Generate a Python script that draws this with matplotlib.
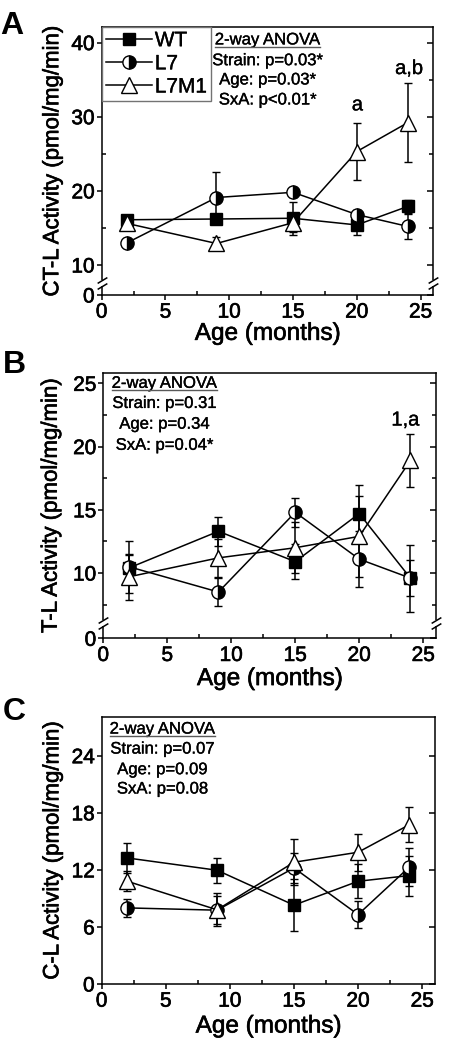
import numpy as np
import matplotlib
matplotlib.use('Agg')
import matplotlib.pyplot as plt
import matplotlib.patheffects as pe
from matplotlib.lines import Line2D
from matplotlib.path import Path
from matplotlib.ticker import FixedLocator
from matplotlib.transforms import blended_transform_factory, ScaledTranslation

plt.rcParams['font.family'] = ['Liberation Sans', 'DejaVu Sans']
plt.rcParams['axes.linewidth'] = 1.1

W, H = 453, 1050

# ages (months) and strains
ages = [2, 9, 15, 20, 24]
strains = ['WT', 'L7', 'L7M1']

# A: chymotrypsin-like activity
ctl_wt = [16.1, 16.2, 16.3, 15.4, 17.9]
ctl_wt_err = [0.5, 0.6, 2.2, 1.35, 0.9]
ctl_l7 = [13.0, 19.1, 19.8, 16.8, 15.2]
ctl_l7_err = [0.5, 3.4, 0.6, 0.6, 1.7]
ctl_l7m1 = [15.6, 12.9, 15.7, 25.3, 29.2]
ctl_l7m1_err = [0.9, 0.9, 1.2, 3.8, 5.3]

# B: trypsin-like activity
tl_wt = [10.4, 13.3, 10.9, 14.7, 9.6]
tl_wt_err = [1.0, 1.15, 1.4, 2.3, 1.45]
tl_l7 = [10.5, 8.5, 14.8, 11.1, 9.6]
tl_l7_err = [2.05, 1.1, 1.15, 2.2, 2.65]
tl_l7m1 = [9.7, 11.2, 12.0, 12.9, 18.9]
tl_l7m1_err = [1.8, 1.5, 2.0, 3.2, 2.1]

# C: caspase-like activity
cl_wt = [13.25, 11.96, 8.29, 10.8, 11.4]
cl_wt_err = [1.6, 1.3, 2.75, 1.8, 2.1]
cl_l7 = [8.0, 7.76, 12.2, 7.3, 12.3]
cl_l7_err = [0.95, 1.5, 1.6, 1.4, 2.0]
cl_l7m1 = [10.8, 7.8, 12.8, 13.85, 16.75]
cl_l7m1_err = [1.05, 1.75, 2.4, 1.95, 1.85]

anova_a = ['Strain: p=0.03*', 'Age: p=0.03*', 'SxA: p<0.01*']
anova_b = ['Strain: p=0.31', 'Age: p=0.34', 'SxA: p=0.04*']
anova_c = ['Strain: p=0.07', 'Age: p=0.09', 'SxA: p=0.08']

styles = {
    'WT': dict(marker='s', markersize=8.5, markerfacecolor='black'),
    'L7': dict(marker='o', markersize=9.5, markerfacecolor='black',
               markerfacecoloralt='white', fillstyle='right'),
    'L7M1': dict(marker='^', markersize=11.5, markerfacecolor='white'),
}

# the original print is a bit heavier than plain Liberation Sans
heavy = [pe.withStroke(linewidth=0.45, foreground='black')]
light = [pe.withStroke(linewidth=0.25, foreground='black')]

fig = plt.figure(figsize=(W / 100, H / 100), dpi=100)


def px_rect(l, r, t, b):
    return [l / W, 1 - b / H, (r - l) / W, (b - t) / H]


def break_scale(brk, zero_at):
    # linear above brk, squeezed below so that 0 sits at zero_at
    k = (brk - zero_at) / brk

    def fwd(y):
        y = np.asarray(y, float)
        return np.where(y >= brk, y, brk - (brk - y) * k)

    def inv(y):
        y = np.asarray(y, float)
        return np.where(y >= brk, y, brk - (brk - y) / k)
    return fwd, inv


slash = Path([(-1, -0.6), (1, 0.6)], [Path.MOVETO, Path.LINETO])
vbar = Path([(0, -1), (0, 1)], [Path.MOVETO, Path.LINETO])


def draw_break(ax, yb):
    trans = blended_transform_factory(ax.transAxes, ax.transData)
    for xa in (0, 1):
        ax.plot([xa], [yb], ls='none', marker=vbar, ms=4, mec='white', mew=3,
                transform=trans, clip_on=False, zorder=10)
        for dy in (-2.0, 2.0):
            t = trans + ScaledTranslation(0, dy / 72, fig.dpi_scale_trans)
            ax.plot([xa], [yb], ls='none', marker=slash, ms=7, mec='black',
                    mew=1.1, transform=t, clip_on=False, zorder=11)


def draw_panel(rect, means, errs, ylabel, ylim, yticks, yminor,
               ylab_x, xlab_y, brk=None, zero_at=None):
    ax = fig.add_axes(rect)
    if brk is not None:
        ax.set_yscale('function', functions=break_scale(brk, zero_at))
    for name, m, e in zip(strains, means, errs):
        ax.errorbar(ages, m, yerr=e, color='black', linewidth=1.1,
                    elinewidth=1.1, capsize=3.0, capthick=1.1,
                    markeredgecolor='black', markeredgewidth=1.0,
                    **styles[name])
    ax.set_xlim(0, 26)
    ax.set_ylim(*ylim)
    ax.set_xticks(range(0, 26, 5))
    ax.xaxis.set_minor_locator(FixedLocator(np.arange(2.5, 25, 5)))
    ax.set_yticks(yticks)
    ax.yaxis.set_minor_locator(FixedLocator(yminor))
    ax.tick_params(axis='x', which='major', direction='out', length=3.5,
                   width=1.1, labelsize=15, pad=2, top=False)
    ax.tick_params(axis='x', which='minor', direction='in', length=3,
                   width=1.1, top=False)
    ax.tick_params(axis='y', which='major', direction='out', length=3.5,
                   width=1.1, labelsize=15, pad=1.5, right=False)
    ax.tick_params(axis='y', which='minor', direction='in', length=3,
                   width=1.1, right=False)
    ax.set_xlabel('Age (months)', fontsize=17.5, path_effects=heavy)
    ax.set_ylabel(ylabel, fontsize=16, path_effects=heavy)
    ax.xaxis.set_label_coords(0.5, xlab_y)
    ax.yaxis.set_label_coords(ylab_x, 0.5)
    for lab in ax.get_xticklabels() + ax.get_yticklabels():
        lab.set_path_effects(heavy)

    # right-hand ticks point inwards
    ax2 = ax.twinx()
    if brk is not None:
        ax2.set_yscale('function', functions=break_scale(brk, zero_at))
    ax2.set_ylim(*ylim)
    ax2.set_yticks(yticks)
    ax2.yaxis.set_minor_locator(FixedLocator(yminor))
    ax2.tick_params(axis='y', which='major', direction='in', length=4,
                    width=1.1, labelright=False)
    ax2.tick_params(axis='y', which='minor', direction='in', length=3,
                    width=1.1, labelright=False)
    for s in ax2.spines.values():
        s.set_visible(False)
    if brk is not None:
        draw_break(ax2, brk)
    return ax


def anova_box(ax, x, ys, lines):
    head = ax.text(x, ys[0], '2-way ANOVA', ha='center', va='center',
                   fontsize=12, path_effects=light)
    for y, s in zip(ys[1:], lines):
        ax.text(x, y, s, ha='center', va='center', fontsize=12,
                path_effects=light)
    return head


# ---- panel A ----
axA = draw_panel(px_rect(101.7, 433.3, 27, 295),
                 [ctl_wt, ctl_l7, ctl_l7m1],
                 [ctl_wt_err, ctl_l7_err, ctl_l7m1_err],
                 'CT-L Activity (pmol/mg/min)', (0, 42.1),
                 [0, 10, 20, 30, 40], [15, 25, 35],
                 ylab_x=-0.116, xlab_y=-0.104, brk=7.6, zero_at=5.95)
handles = [Line2D([], [], color='black', lw=1.1, markeredgecolor='black',
                  markeredgewidth=1.0, **styles[n]) for n in strains]
leg = axA.legend(handles, strains, loc='upper left', bbox_to_anchor=(0, 1),
                 borderaxespad=0, fontsize=15, handlelength=2.2,
                 handletextpad=0.15, labelspacing=0.2, borderpad=0.2,
                 fancybox=False, edgecolor='0.45', framealpha=1)
leg.get_frame().set_linewidth(1.0)
for t in leg.get_texts():
    t.set_path_effects(light)
headA = anova_box(axA, 13.0, [40.36, 37.56, 34.96, 32.26], anova_a)
axA.text(20.05, 31.6, 'a', ha='center', va='center', fontsize=14.5,
         path_effects=light)
axA.text(24.1, 36.5, 'a,b', ha='center', va='center', fontsize=14.5,
         path_effects=light)

# ---- panel B ----
axB = draw_panel(px_rect(103.3, 436, 372.7, 638.3),
                 [tl_wt, tl_l7, tl_l7m1],
                 [tl_wt_err, tl_l7_err, tl_l7m1_err],
                 'T-L Activity (pmol/mg/min)', (0, 25.84),
                 [0, 10, 15, 20, 25], [7.5, 12.5, 17.5, 22.5],
                 ylab_x=-0.125, xlab_y=-0.112, brk=6.06, zero_at=4.84)
headB = anova_box(axB, 4.77, [25.0, 23.41, 21.77, 20.10], anova_b)
axB.text(23.6, 22.1, '1,a', ha='center', va='center', fontsize=14.5,
         path_effects=light)

# ---- panel C ----
axC = draw_panel(px_rect(101.7, 435, 716.7, 984),
                 [cl_wt, cl_l7, cl_l7m1],
                 [cl_wt_err, cl_l7_err, cl_l7m1_err],
                 'C-L Activity (pmol/mg/min)', (0, 28.1),
                 [0, 6, 12, 18, 24], [],
                 ylab_x=-0.115, xlab_y=-0.118)
headC = anova_box(axC, 4.73, [26.8, 24.7, 22.53, 20.5], anova_c)

# panel letters
for letter, x, base in [('A', 0.0, 33.5), ('B', 2.5, 373.5), ('C', 2.5, 719.5)]:
    fig.text(x / W, 1 - base / H, letter, fontsize=23, fontweight='bold',
             ha='left', va='baseline')

# underline the ANOVA headings
fig.canvas.draw()
renderer = fig.canvas.get_renderer()
for head in (headA, headB, headC):
    bb = head.get_window_extent(renderer)
    fig.add_artist(Line2D([bb.x0 / W, bb.x1 / W],
                          [(bb.y0 + 0.5) / H, (bb.y0 + 0.5) / H],
                          transform=fig.transFigure, color='0.35', lw=1.0))

fig.savefig('out.png', dpi=100)
